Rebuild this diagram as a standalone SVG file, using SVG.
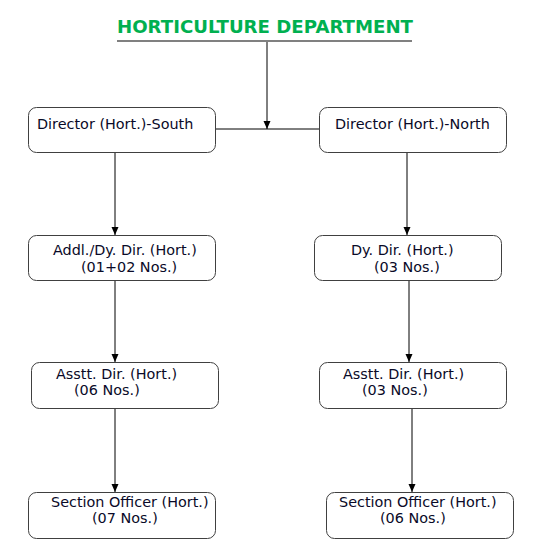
<svg xmlns="http://www.w3.org/2000/svg" width="534" height="558" viewBox="0 0 534 558">
<style>
.box{fill:#fff;stroke:#404040;stroke-width:1}
.t{font-family:"DejaVu Sans",Verdana,sans-serif;font-size:14.4px;fill:#0a0a28}
.title{font-family:"DejaVu Sans",Verdana,sans-serif;font-size:17.5px;font-weight:bold;fill:#00b050}
.c{stroke:#000;stroke-width:1;fill:none}
.ca{stroke:#000;stroke-width:1;fill:none;marker-end:url(#ah)}
</style>
<defs>
<marker id="ah" viewBox="0 0 8 8" refX="8" refY="4" markerWidth="8" markerHeight="8" markerUnits="userSpaceOnUse" orient="auto">
<path d="M0,0.5 L8,4 L0,7.5 Z" fill="#000"/>
</marker>
</defs>
<rect width="534" height="558" fill="#fff"/>
<g id="title">
<text class="title" x="265" y="33" text-anchor="middle" textLength="296" lengthAdjust="spacingAndGlyphs">HORTICULTURE DEPARTMENT</text>
<line x1="117" y1="41" x2="412" y2="41" stroke="#808080" stroke-width="2"/>
</g>
<g id="connectors">
<line class="ca" x1="267" y1="42" x2="267" y2="129"/>
<line class="c" x1="216" y1="129" x2="319" y2="129"/>
<line class="ca" x1="115" y1="153" x2="115" y2="235"/>
<line class="ca" x1="407" y1="153" x2="407" y2="235"/>
<line class="ca" x1="115" y1="281" x2="115" y2="362"/>
<line class="ca" x1="409" y1="281" x2="409" y2="362"/>
<line class="ca" x1="115" y1="409" x2="115" y2="492"/>
<line class="ca" x1="412" y1="409" x2="412" y2="492"/>
</g>
<g id="dir-south">
<rect class="box" x="28.5" y="107.5" width="187" height="45" rx="8"/>
<text class="t" x="37" y="129">Director (Hort.)-South</text>
</g>
<g id="dir-north">
<rect class="box" x="319.5" y="107.5" width="187" height="45" rx="8"/>
<text class="t" x="335" y="129">Director (Hort.)-North</text>
</g>
<g id="addl-dir">
<rect class="box" x="28.5" y="235.5" width="187" height="45" rx="8"/>
<text class="t" x="53" y="255">Addl./Dy. Dir. (Hort.)</text>
<text class="t" x="81" y="272">(01+02 Nos.)</text>
</g>
<g id="dy-dir">
<rect class="box" x="314.5" y="235.5" width="187" height="45" rx="8"/>
<text class="t" x="351" y="255">Dy. Dir. (Hort.)</text>
<text class="t" x="374" y="272">(03 Nos.)</text>
</g>
<g id="asstt-south">
<rect class="box" x="31.5" y="362.5" width="187" height="46" rx="8"/>
<text class="t" x="56" y="379">Asstt. Dir. (Hort.)</text>
<text class="t" x="74" y="395">(06 Nos.)</text>
</g>
<g id="asstt-north">
<rect class="box" x="319.5" y="362.5" width="187" height="46" rx="8"/>
<text class="t" x="343" y="379">Asstt. Dir. (Hort.)</text>
<text class="t" x="362" y="395">(03 Nos.)</text>
</g>
<g id="so-south">
<rect class="box" x="28.5" y="492.5" width="187" height="46" rx="8"/>
<text class="t" x="51" y="507">Section Officer (Hort.)</text>
<text class="t" x="92" y="523">(07 Nos.)</text>
</g>
<g id="so-north">
<rect class="box" x="326.5" y="492.5" width="187" height="46" rx="8"/>
<text class="t" x="339" y="507">Section Officer (Hort.)</text>
<text class="t" x="380" y="523">(06 Nos.)</text>
</g>
</svg>
